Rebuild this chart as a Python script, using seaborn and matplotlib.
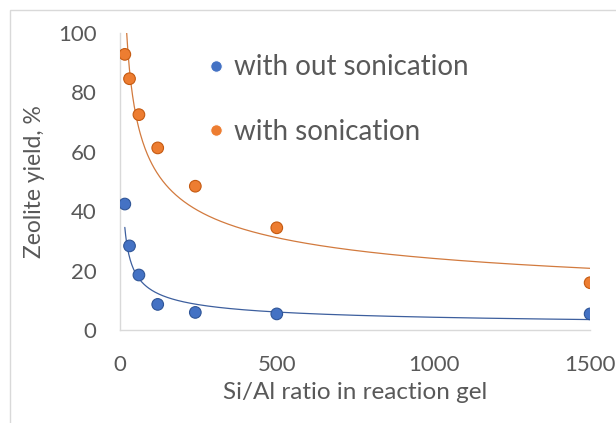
import numpy as np
import pandas as pd
import matplotlib.pyplot as plt
import seaborn as sns
from matplotlib.patches import Rectangle

# values
si_al = [15, 30, 60, 120, 240, 500, 1500]
yield_without = [42.4, 28.3, 18.5, 8.6, 5.9, 5.4, 5.4]
yield_with = [92.8, 84.6, 72.5, 61.3, 48.4, 34.4, 15.9]
series_names = ["with out sonication", "with sonication"]
colors = ["#4472C4", "#ED7D31"]

df = pd.DataFrame({
    "ratio": si_al * 2,
    "yield": yield_without + yield_with,
    "series": [series_names[0]] * len(si_al) + [series_names[1]] * len(si_al),
})

sns.set_style("white")
plt.rcParams["font.family"] = ["Lato", "DejaVu Sans"]
text_color = "#595959"

fig = plt.figure(figsize=(6.16, 4.23), dpi=100)
ax = fig.add_axes([0.195, 0.220, 0.763, 0.702])

# chart area border
fig.patches.append(Rectangle((10 / 616, -0.01), 1.0, 1 - 10 / 423 + 0.01,
                             transform=fig.transFigure, fill=False,
                             edgecolor="#d9d9d9", linewidth=1))

# power trend lines (Excel style), fitted in log space
x_fit = np.linspace(min(si_al), max(si_al), 600)
line_colors = ["#3d5f9e", "#d27a3e"]
for vals, c in zip([yield_without, yield_with], line_colors):
    b, ln_a = np.polyfit(np.log(si_al), np.log(vals), 1)
    ax.plot(x_fit, np.exp(ln_a) * x_fit ** b, color=c, linewidth=0.9, zorder=1)

sns.scatterplot(data=df, x="ratio", y="yield", hue="series",
                palette=colors, s=70, linewidth=0.8, ax=ax, zorder=3)
coll = ax.collections[-1]
edge = ["#2f5597" if s == series_names[0] else "#c55a11" for s in df["series"]]
coll.set_edgecolor(edge)

ax.set_xlim(0, 1500)
ax.set_ylim(0, 100)
ax.set_xticks([0, 500, 1000, 1500])
ax.set_yticks([0, 20, 40, 60, 80, 100])
ax.tick_params(length=0, labelsize=16, colors=text_color, pad=17)
ax.tick_params(axis="x", pad=18)
for s in ["top", "right"]:
    ax.spines[s].set_visible(False)
for s in ["left", "bottom"]:
    ax.spines[s].set_color("#d9d9d9")
    ax.spines[s].set_linewidth(1)

ax.set_xlabel("Si/Al ratio in reaction gel", fontsize=17.5, color=text_color, labelpad=5)
ax.set_ylabel("Zeolite yield, %", fontsize=16.5, color=text_color, labelpad=9)

handles, labels = ax.get_legend_handles_labels()
leg = ax.legend(handles, labels, loc="upper left", bbox_to_anchor=(0.128, 1.012),
                frameon=False, fontsize=20, labelspacing=1.38, handlelength=0.8,
                handletextpad=0.22, markerscale=1.0, labelcolor=text_color)

fig.savefig("out.png", dpi=100)
